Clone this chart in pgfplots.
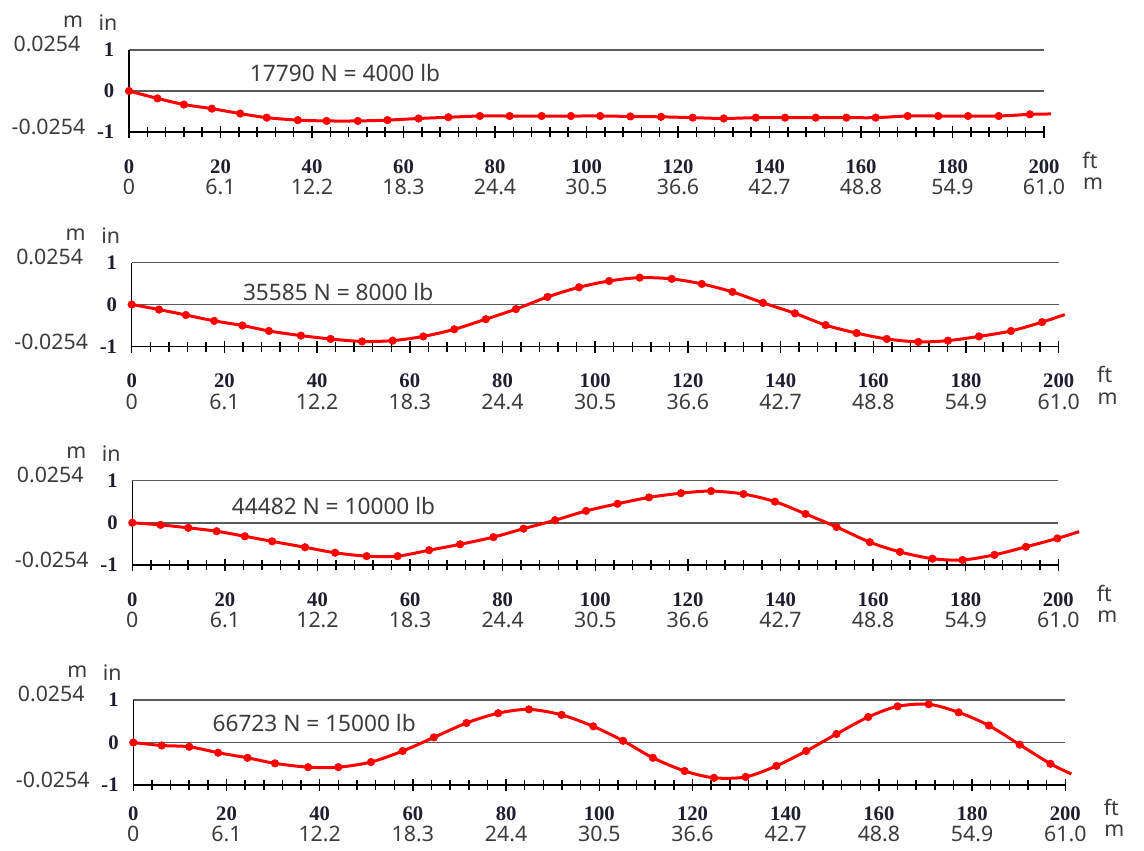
\documentclass[border=0pt]{standalone}
\usepackage{pgfplots}
\pgfplotsset{compat=1.18}
\usepackage{pgfplotstable}
\usepackage{fontspec}
\setmainfont{Noto Sans}
\newfontfamily\tnr{Liberation Serif}
\definecolor{txt}{HTML}{3C3C3C}
\definecolor{gridc}{HTML}{5A5A5A}
\definecolor{numc}{HTML}{1E1E2E}
\newlength\px \setlength\px{0.75pt}
\newcommand\tf{\tnr\bfseries\fontsize{15.5}{15.5}\selectfont\color{numc}}

\pgfplotstableread{
x y
0 0
6.2 -0.18
12.0 -0.33
18.1 -0.43
24.3 -0.55
30.1 -0.65
36.9 -0.71
43.2 -0.73
50.0 -0.73
56.5 -0.71
63.3 -0.67
69.8 -0.64
76.7 -0.61
83.2 -0.61
90.2 -0.61
96.6 -0.61
103.0 -0.61
109.6 -0.62
116.3 -0.63
123.2 -0.65
130.0 -0.67
137.0 -0.65
143.4 -0.65
150.1 -0.65
156.8 -0.65
163.2 -0.65
170.2 -0.61
176.9 -0.61
183.4 -0.61
190.1 -0.61
196.9 -0.57
201.5 -0.56
}\dA

\pgfplotstableread{
x y
0 0
5.9 -0.12
11.7 -0.25
17.8 -0.39
23.9 -0.50
29.6 -0.63
36.5 -0.74
42.9 -0.82
49.7 -0.88
56.3 -0.86
62.9 -0.76
69.6 -0.59
76.4 -0.35
82.9 -0.11
89.7 0.18
96.5 0.41
103.0 0.56
109.6 0.64
116.5 0.61
123.0 0.49
129.6 0.30
136.2 0.04
143.1 -0.21
149.7 -0.49
156.4 -0.68
162.9 -0.82
169.7 -0.89
176.1 -0.86
182.8 -0.76
189.7 -0.63
196.4 -0.42
201.3 -0.24
}\dB

\pgfplotstableread{
x y
0 0
6.1 -0.05
12.1 -0.12
18.2 -0.20
24.3 -0.32
30.2 -0.44
37.3 -0.58
43.8 -0.71
50.6 -0.79
57.3 -0.79
64.1 -0.65
70.8 -0.51
78.0 -0.34
84.5 -0.14
91.3 0.06
98.0 0.28
104.8 0.45
111.6 0.60
118.5 0.70
125.0 0.75
132.0 0.68
138.8 0.50
145.4 0.21
152.1 -0.10
159.3 -0.46
165.8 -0.69
172.8 -0.85
179.3 -0.88
186.2 -0.76
193.0 -0.57
199.8 -0.37
204.5 -0.21
}\dC

\pgfplotstableread{
x y
0 0
6.1 -0.07
12.0 -0.10
18.2 -0.24
24.5 -0.36
30.4 -0.49
37.5 -0.58
44.0 -0.58
51.0 -0.46
57.8 -0.20
64.5 0.12
71.5 0.46
78.3 0.69
84.9 0.78
91.9 0.65
98.7 0.38
105.1 0.04
111.5 -0.36
118.3 -0.67
124.6 -0.83
131.4 -0.81
138.0 -0.55
144.4 -0.20
150.9 0.20
157.7 0.60
164.0 0.85
170.7 0.90
177.1 0.71
183.6 0.40
190.2 -0.05
196.8 -0.50
201.3 -0.74
}\dD

\tikzset{ttl/.style={anchor=west, font=\fontsize{17}{17}\selectfont, text=txt}}

\pgfplotsset{
  udy/.initial=0pt,
  panel/.style={
    scale only axis, anchor=north west,
    xmin=0, xmax=200, ymin=-1, ymax=1,
    axis x line=bottom, axis y line=left,
    axis line style={-, black, line width=1.1pt},
    clip=false,
    xtick={0,20,...,200},
    minor x tick num=4,
    tick align=center,
    major tick length=12\px, minor tick length=10\px,
    tick style={black, line width=1.1pt},
    ytick style={draw=none},
    xticklabels={{{\tf 0}\\0},{{\tf 20}\\6.1},{{\tf 40}\\12.2},{{\tf 60}\\18.3},{{\tf 80}\\24.4},{{\tf 100}\\30.5},{{\tf 120}\\36.6},{{\tf 140}\\42.7},{{\tf 160}\\48.8},{{\tf 180}\\54.9},{{\tf 200}\\61.0}},
    xticklabel style={align=center, font=\fontsize{16}{15.8}\selectfont, text=txt, yshift=-17\px},
    ytick={-1,0,1},
    yticklabels={-1,0,1},
    yticklabel style={font=\tf, xshift=-4\px},
    ymajorgrids,
    major grid style={gridc, line width=1.3pt},
    extra description/.code={
      \node[anchor=east, font=\fontsize{16}{16}\selectfont, text=txt, xshift=-44\px, yshift=6\px] at (0,1) {0.0254};
      \node[anchor=east, font=\fontsize{16}{16}\selectfont, text=txt, xshift=-39\px, yshift=5\px] at (0,0) {-0.0254};
      \node[font=\fontsize{16}{16}\selectfont, text=txt, xshift=-56\px, yshift=28\px] at (0,1) {m};
      \node[font=\fontsize{16}{16}\selectfont, text=txt, xshift=-21\px, yshift=27\px] at (0,1) {in};
      \node[font=\fontsize{16}{16}\selectfont, text=txt, xshift=46\px, yshift=-28\px, yshift=\pgfkeysvalueof{/pgfplots/udy}] at (1,0) {ft};
      \node[font=\fontsize{16}{16}\selectfont, text=txt, xshift=49\px, yshift=-52\px, yshift=\pgfkeysvalueof{/pgfplots/udy}] at (1,0) {m};
    },
  },
  curve/.style={red, line width=3\px, smooth, no marks},
  dots/.style={red, only marks, mark=*, mark size=3.8\px, skip coords between index={31}{32}},
}

\begin{document}
\begin{tikzpicture}
\useasboundingbox (0,0) rectangle (1144\px,-850\px);

\begin{axis}[panel, at={(129\px,-50\px)}, width=915\px, height=82\px]
\addplot[curve] table {\dA};
\addplot[dots] table {\dA};
\node[ttl] at (axis cs:25.4,0.44) {17790 N = 4000 lb};
\end{axis}

\begin{axis}[panel, at={(131.7\px,-262.5\px)}, width=927\px, height=84\px]
\addplot[curve] table {\dB};
\addplot[dots] table {\dB};
\node[ttl] at (axis cs:23.0,0.29) {35585 N = 8000 lb};
\end{axis}

\begin{axis}[panel, at={(132.3\px,-480.5\px)}, width=926\px, height=84.5\px]
\addplot[curve] table {\dC};
\addplot[dots] table {\dC};
\node[ttl] at (axis cs:20.5,0.40) {44482 N = 10000 lb};
\end{axis}

\begin{axis}[panel, at={(133.3\px,-700\px)}, width=932\px, height=85\px, udy=4.5pt, xticklabel style={yshift=6\px}]
\addplot[curve] table {\dD};
\addplot[dots] table {\dD};
\node[ttl] at (axis cs:16.0,0.47) {66723 N = 15000 lb};
\end{axis}
\end{tikzpicture}
\end{document}
